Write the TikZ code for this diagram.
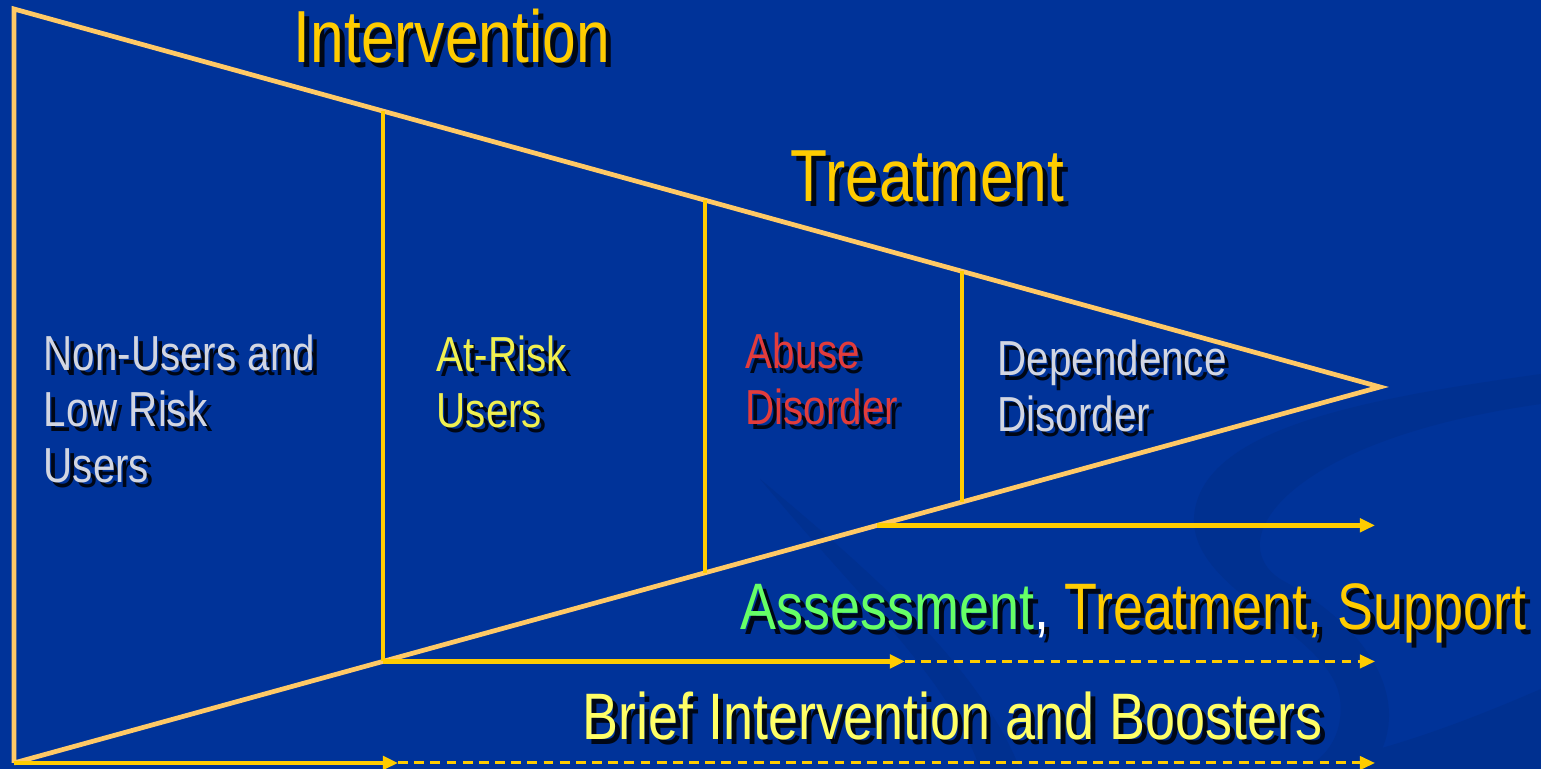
\documentclass[tikz,border=0pt]{standalone}
\usepackage{fontspec}
\setmainfont{Liberation Sans}
\newfontfamily\narrowfont[FakeStretch=0.82]{Liberation Sans}
\usetikzlibrary{arrows.meta,calc}
\definecolor{slidebg}{HTML}{003399}
\definecolor{swirl}{HTML}{003090}
\definecolor{rimcol}{HTML}{FFC966}
\definecolor{gold}{HTML}{FFCC00}
\definecolor{paleyellow}{HTML}{FFFF66}
\definecolor{atyellow}{HTML}{F0F050}
\definecolor{mintgreen}{HTML}{66FF66}
\definecolor{abusered}{HTML}{E23C3C}
\definecolor{silver}{HTML}{D2D6E2}
\tikzset{
  rim/.style={rimcol, line width=1.35pt},
  divider/.style={gold, line width=1.15pt},
  flow/.style={gold, line width=1.3pt, -{Triangle[length=4.3pt,width=3.8pt]}},
  later/.style={gold, line width=0.85pt, dash pattern=on 2.8pt off 1.8pt, -{Triangle[length=4.3pt,width=3.8pt]}},
  lbl/.style={font=\narrowfont\fontsize{14}{16}\selectfont, align=left, anchor=base west, inner sep=0pt},
  title/.style={font=\narrowfont\fontsize{21}{24}\selectfont, anchor=base west, inner sep=0pt},
  caption/.style={font=\narrowfont\fontsize{18.7}{22}\selectfont, anchor=base west, inner sep=0pt}
}
\newcommand{\tint}[2]{\textcolor{#1}{#2}}
% label with a black drop shadow: name, style, position (last baseline), colour, text
\newcommand{\shadowed}[5]{%
  \node[#2, text=black, opacity=.85] at ([shift={(1.4pt,-1.4pt)}]#3) {\renewcommand\tint[2]{##2}#5};
  \node[#2, text=#4] (#1) at (#3) {#5};}
\begin{document}
\begin{tikzpicture}[line join=miter]
  \useasboundingbox (0,0) rectangle (15.41,7.69);
  \fill[slidebg] (0,0) rectangle (15.41,7.69);
  % faint swirls behind
  \fill[swirl] (15.41,3.95) .. controls (13.6,3.7) and (12.1,3.4) .. (11.95,2.6)
    .. controls (11.8,1.8) and (13.3,1.4) .. (13.4,0.7) .. controls (13.45,0.3) and (13.2,0.05) .. (13.0,0)
    -- (13.7,0) .. controls (14.1,0.5) and (13.9,1.3) .. (12.8,1.9)
    .. controls (12.2,2.3) and (12.9,3.3) .. (15.41,3.65) -- cycle;
  \fill[swirl] (12.9,0) -- (15.41,0) -- (15.41,0.8) .. controls (14.6,0.45) and (13.8,0.15) .. (12.9,0) -- cycle;
  \fill[swirl] (7.6,2.9) .. controls (8.6,1.7) and (9.5,0.9) .. (9.8,0) -- (10.2,0)
    .. controls (9.8,1.0) and (8.8,1.9) .. (7.6,2.9) -- cycle;

  \coordinate (tl) at (0.14,7.60);
  \coordinate (bl) at (0.14,0.06);
  \coordinate (tip) at (13.80,3.82);
  \coordinate (stop) at (13.75,0);
  \draw[rim] (bl) -- (tl) -- (tip) -- (bl);
  \foreach \f/\n in {0.270/1,0.506/2,0.694/3}
    \draw[divider] ($(tl)!\f!(tip)$) coordinate (up\n) -- ($(bl)!\f!(tip)$) coordinate (dn\n);

  % reach of each service
  \coordinate (sup) at ($(bl)!0.632!(tip)$);
  \coordinate (midbrk) at (9.05,0);
  \coordinate (lowbrk) at (3.98,0);
  \draw[flow] (sup) -- (sup -| stop);
  \draw[flow] (dn1) -- (dn1 -| midbrk);
  \draw[later] (dn1 -| midbrk) -- (dn1 -| stop);
  \draw[flow] (bl) -- (bl -| lowbrk);
  \draw[later] (bl -| lowbrk) -- (bl -| stop);

  \shadowed{intervention}{title}{2.93,7.06}{gold}{Intervention}
  \shadowed{treatment}{title}{7.90,5.67}{gold}{Treatment}
  \shadowed{nonusers}{lbl}{0.43,2.86}{silver}{Non-Users and\\Low Risk\\Users}
  \shadowed{atrisk}{lbl}{4.36,3.41}{atyellow}{At-Risk\\Users}
  \shadowed{abuse}{lbl}{7.45,3.44}{abusered}{Abuse\\Disorder}
  \shadowed{dependence}{lbl}{9.97,3.37}{silver}{Dependence\\Disorder}
  \shadowed{assessment}{caption}{7.40,1.39}{gold}{\tint{mintgreen}{Assessment}\tint{white}{,} Treatment, Support}
  \shadowed{brief}{caption}{5.82,0.29}{paleyellow}{Brief Intervention and Boosters}
\end{tikzpicture}
\end{document}
